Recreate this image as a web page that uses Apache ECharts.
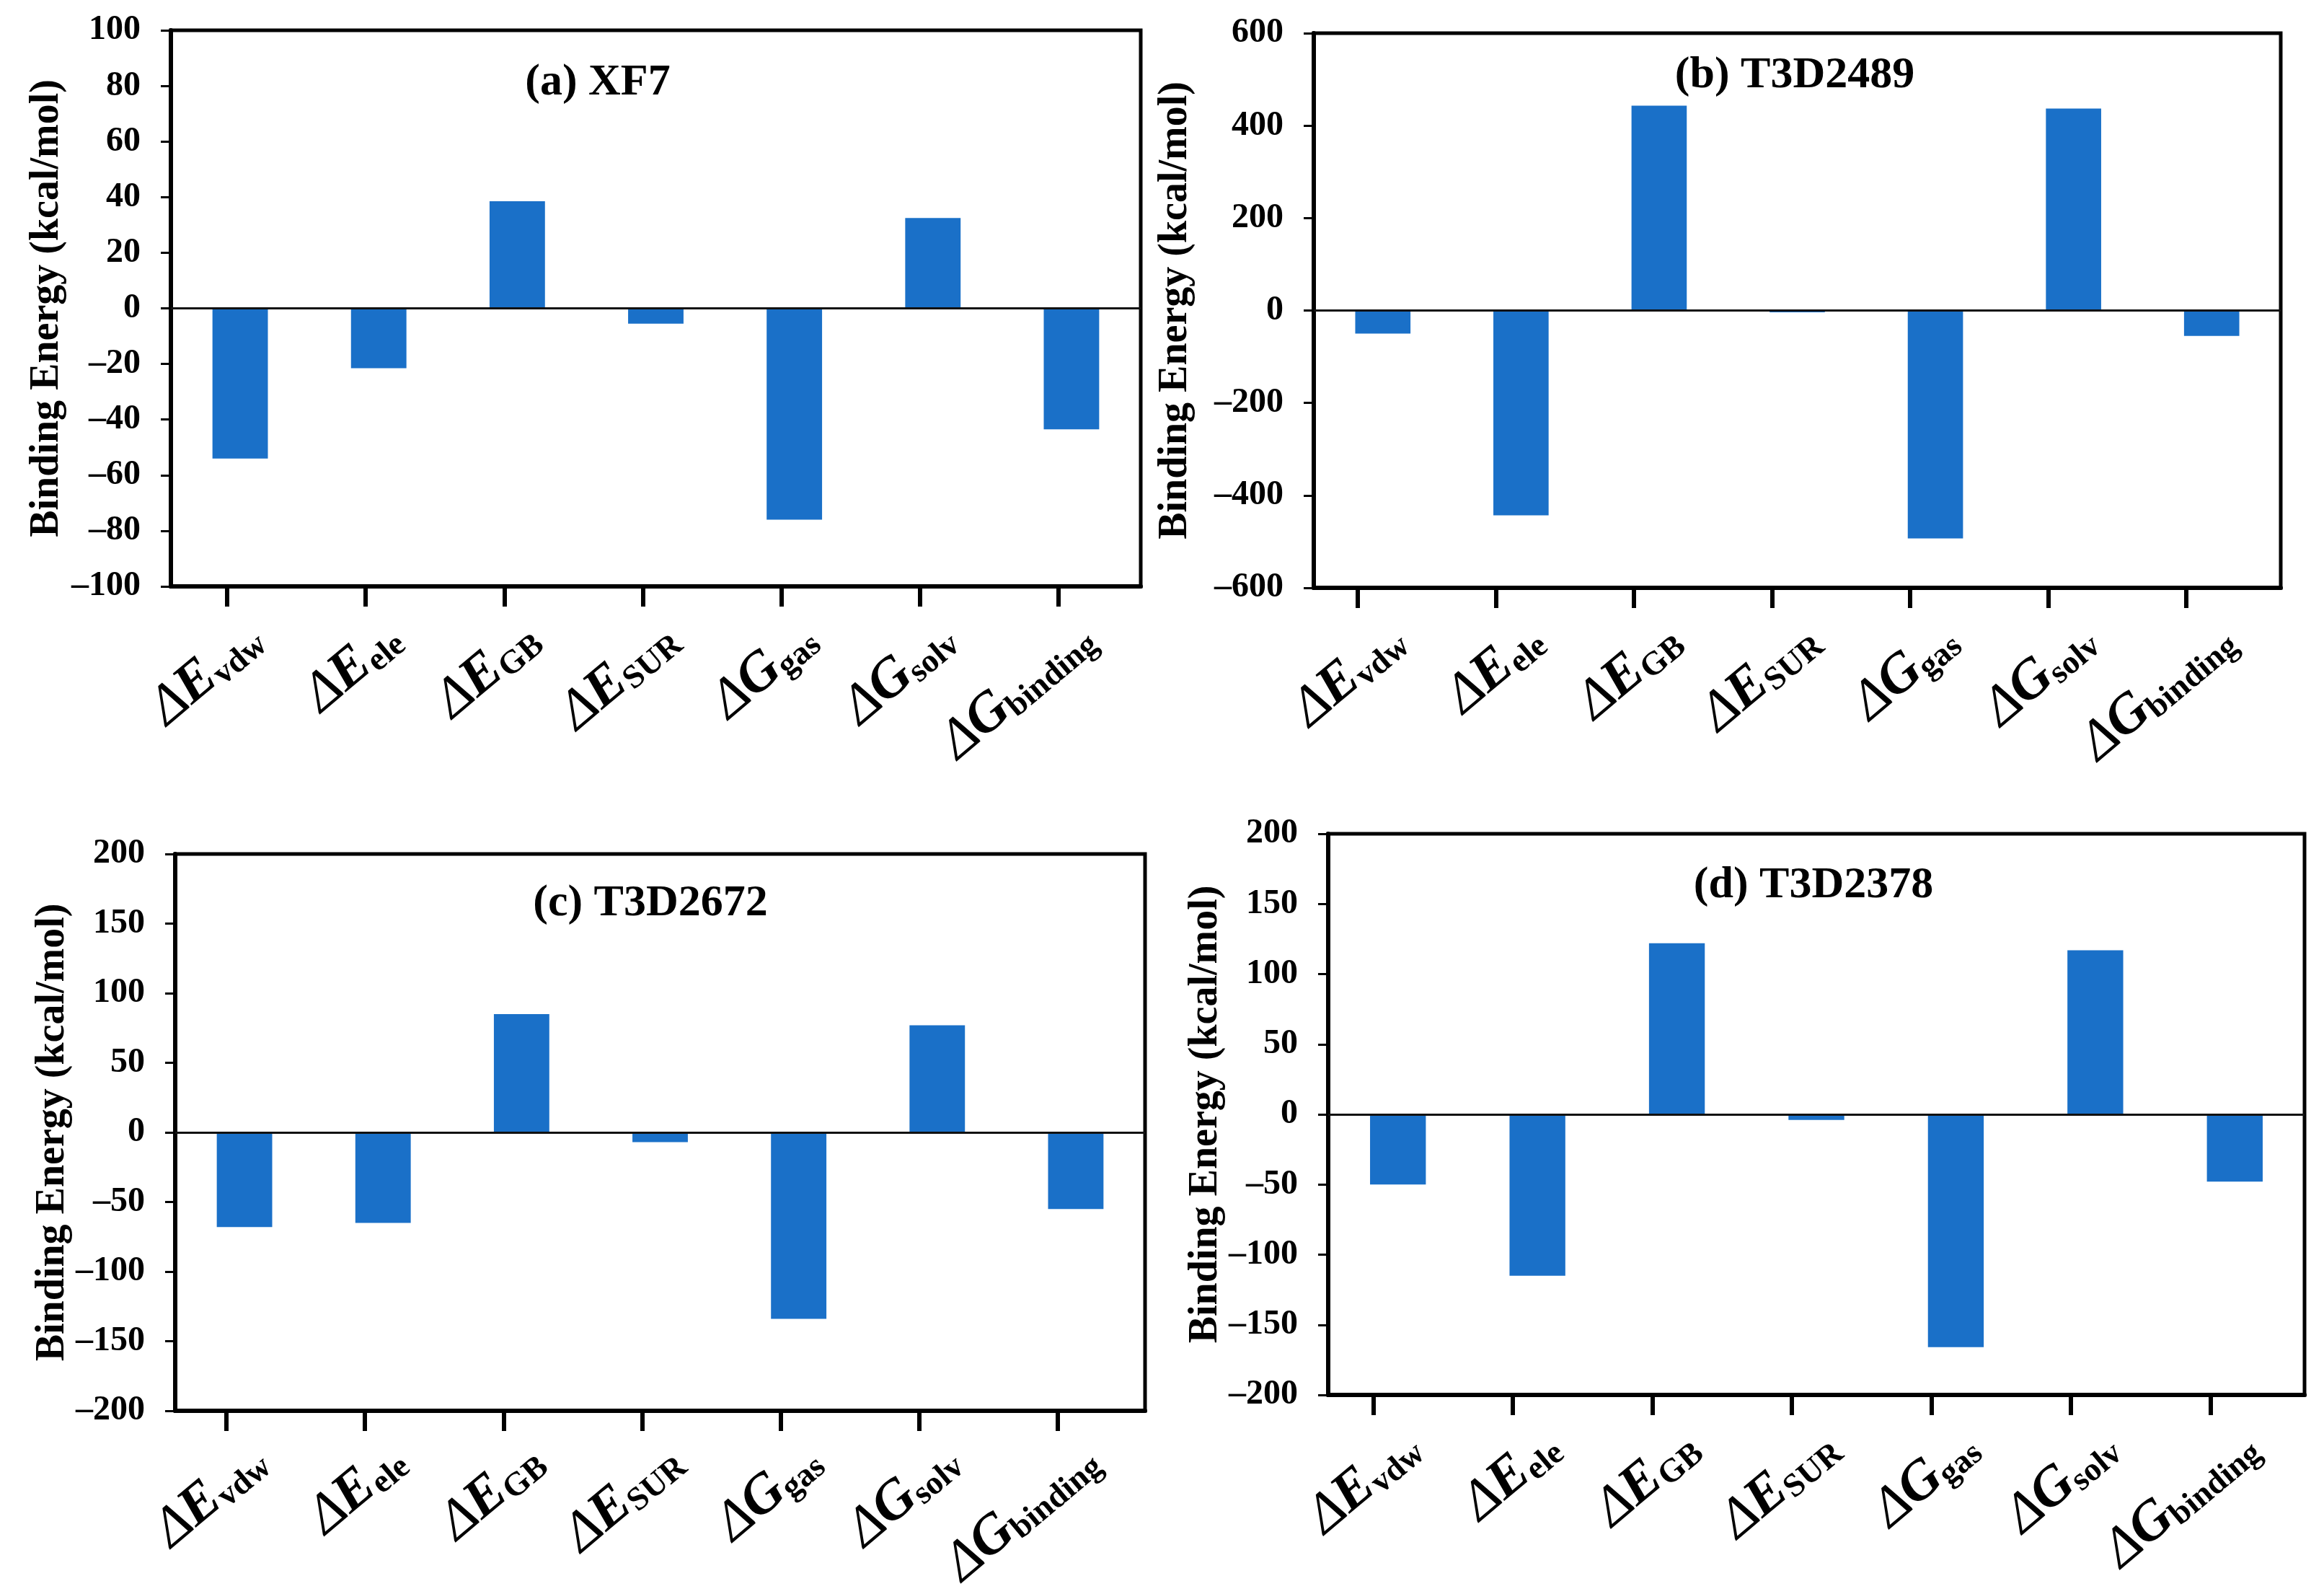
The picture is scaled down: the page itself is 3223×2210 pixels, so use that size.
<!DOCTYPE html>
<html><head><meta charset="utf-8">
<script src="https://cdn.jsdelivr.net/npm/echarts@6/dist/echarts.min.js"></script>
<style>html,body{margin:0;padding:0;background:#fff}#c{width:3223px;height:2210px}</style>
</head><body><div id="c"></div>
<script>
// ---- data ----
const categories = ['ΔE_vdw', 'ΔE_ele', 'ΔE_GB', 'ΔE_SUR', 'ΔG_gas', 'ΔG_solv', 'ΔG_binding'];
const valuesXF7     = [-54, -21.5, 38.5, -5.5, -76, 32.5, -43.5];
const valuesT3D2489 = [-50, -443, 443, -4, -493, 437, -55];
const valuesT3D2672 = [-68, -65, 85, -7, -134, 77, -55];
const valuesT3D2378 = [-50, -115, 122, -4, -166, 117, -48];
const titles = ['(a) XF7', '(b) T3D2489', '(c) T3D2672', '(d) T3D2378'];
const yAxisXF7     = [-100, 100, 20];
const yAxisT3D2489 = [-600, 600, 200];
const yAxisT3D2672 = [-200, 200, 50];
const yAxisT3D2378 = [-200, 200, 50];
const yName = 'Binding Energy (kcal/mol)';

// ---- layout ----
const panels = [
  {vals: valuesXF7, y: yAxisXF7, g: {left: 237, right: 1641, top: 42, bottom: 1397}, tx: 824, ty: 115, gap: 143, tickOff: -18},
  {vals: valuesT3D2489, y: yAxisT3D2489, g: {left: 1822, right: 60, top: 46, bottom: 1395}, tx: 2484, ty: 105, gap: 163, tickOff: -35},
  {vals: valuesT3D2672, y: yAxisT3D2672, g: {left: 243, right: 1635, top: 1184, bottom: 254}, tx: 897, ty: 1253, gap: 141, tickOff: -25},
  {vals: valuesT3D2378, y: yAxisT3D2378, g: {left: 1842, right: 27, top: 1156, bottom: 276}, tx: 2510, ty: 1228, gap: 141, tickOff: -34}
];
const FONT = 'Liberation Serif';
const LABEL_SHIFT = 22;
const fmtNum = v => v < 0 ? '\u2013' + Math.abs(v) : String(v);
const fmtCat = c => {
  const p = c.split('_');
  return '{d|' + p[0].charAt(0) + '}{m|' + p[0].charAt(1) + '}{s|' + p[1] + '}';
};
const rich = {
  d: {fontFamily: FONT, fontSize: 77, fontStyle: 'italic', fontWeight: 'normal', color: '#000', lineHeight: 77, verticalAlign: 'bottom'},
  m: {fontFamily: FONT, fontSize: 77, fontStyle: 'italic', fontWeight: 'bold', color: '#000', lineHeight: 77, verticalAlign: 'bottom'},
  s: {fontFamily: FONT, fontSize: 46, fontStyle: 'normal', fontWeight: 'bold', color: '#000', lineHeight: 46, verticalAlign: 'bottom'}
};

const option = {backgroundColor: '#fff', animation: false, title: [], grid: [], xAxis: [], yAxis: [], series: []};
panels.forEach((p, i) => {
  option.title.push({
    text: titles[i], left: p.tx, top: p.ty - 36, textAlign: 'center',
    textStyle: {fontFamily: FONT, fontSize: 62, fontWeight: 'bold', color: '#000'}
  });
  const gi = i * 3;
  // main grid
  option.grid.push(Object.assign({show: true, borderColor: '#000', borderWidth: 5, backgroundColor: 'transparent', containLabel: false}, p.g));
  // label grid (shifted right)
  option.grid.push({left: p.g.left + LABEL_SHIFT, right: p.g.right - LABEL_SHIFT, top: p.g.top, bottom: p.g.bottom, show: false});
  // tick grid (shifted left)
  option.grid.push({left: p.g.left + p.tickOff, right: p.g.right - p.tickOff, top: p.g.top, bottom: p.g.bottom, show: false});

  option.xAxis.push({
    type: 'category', gridIndex: gi, data: categories, position: 'bottom',
    axisLine: {show: true, onZero: false, lineStyle: {color: '#000', width: 6}},
    axisTick: {show: false}, axisLabel: {show: false}, splitLine: {show: false}
  });
  option.xAxis.push({
    type: 'category', gridIndex: gi + 1, data: categories, position: 'bottom',
    axisLine: {show: false, onZero: false}, axisTick: {show: false}, splitLine: {show: false},
    axisLabel: {show: true, rotate: 40, margin: 64, interval: 0, formatter: fmtCat, rich: rich}
  });
  option.xAxis.push({
    type: 'category', gridIndex: gi + 2, data: categories, position: 'bottom',
    axisLine: {show: false, onZero: false}, axisLabel: {show: false}, splitLine: {show: false},
    axisTick: {show: true, alignWithLabel: true, length: 28, lineStyle: {color: '#000', width: 6}}
  });
  option.yAxis.push({
    type: 'value', gridIndex: gi, min: p.y[0], max: p.y[1], interval: p.y[2],
    name: yName, nameLocation: 'middle', nameGap: p.gap,
    nameTextStyle: {fontFamily: FONT, fontSize: 56, fontWeight: 'bold', color: '#000'},
    axisLine: {show: true, lineStyle: {color: '#000', width: 6}},
    axisTick: {show: true, inside: false, length: 14, lineStyle: {color: '#000', width: 3}},
    axisLabel: {margin: 42, fontFamily: FONT, fontSize: 48, fontWeight: 'bold', color: '#000', formatter: fmtNum},
    splitLine: {show: false}
  });
  option.yAxis.push({type: 'value', gridIndex: gi + 1, show: false, min: p.y[0], max: p.y[1]});
  option.yAxis.push({type: 'value', gridIndex: gi + 2, show: false, min: p.y[0], max: p.y[1]});
  option.series.push({
    type: 'bar', xAxisIndex: gi, yAxisIndex: gi, data: p.vals, barWidth: '40%',
    itemStyle: {color: '#1a70c8'},
    markLine: {silent: true, symbol: 'none', label: {show: false},
      lineStyle: {color: '#111', width: 3, type: 'solid'}, data: [{yAxis: 0}]}
  });
});
const chart = echarts.init(document.getElementById('c'));
chart.setOption(option);
</script></body></html>
